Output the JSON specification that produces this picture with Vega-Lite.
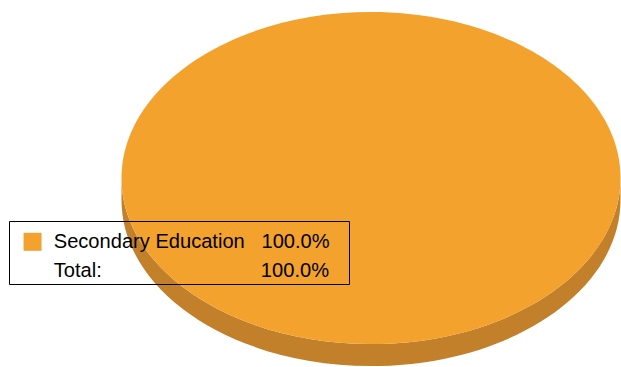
{
  "$schema": "https://vega.github.io/schema/vega-lite/v6.json",
  "width": 621,
  "height": 367,
  "padding": 0,
  "autosize": "none",
  "background": "white",
  "data": {"values": [{"category": "Secondary Education", "share": 100.0}]},
  "layer": [
    {
      "mark": {
        "type": "point",
        "filled": true,
        "opacity": 1,
        "strokeWidth": 0,
        "size": 249001,
        "color": "#C2802A",
        "shape": "M 1.2425 -0.022 C 1.2425 0.3454 0.7948 0.6433 0.2425 0.6433 C -0.3098 0.6433 -0.7575 0.3454 -0.7575 -0.022 L -0.7575 0.0662 C -0.7575 0.4336 -0.3098 0.7315 0.2425 0.7315 C 0.7948 0.7315 1.2425 0.4336 1.2425 0.0662 Z"
      },
      "encoding": {}
    },
    {
      "mark": {
        "type": "point",
        "filled": true,
        "opacity": 1,
        "strokeWidth": 0,
        "size": 249001,
        "shape": "M 1.2425 -0.022 C 1.2425 0.3454 0.7948 0.6433 0.2425 0.6433 C -0.3098 0.6433 -0.7575 0.3454 -0.7575 -0.022 C -0.7575 -0.3894 -0.3098 -0.6873 0.2425 -0.6873 C 0.7948 -0.6873 1.2425 -0.3894 1.2425 -0.022 Z"
      },
      "encoding": {
        "color": {
          "field": "category",
          "type": "nominal",
          "scale": {
            "domain": ["Secondary Education", "Total:"],
            "range": ["#F3A22E", "rgba(0,0,0,0)"]
          },
          "legend": {
            "orient": "none",
            "legendX": 9,
            "legendY": 221,
            "zindex": 1,
            "title": " ",
            "titleFontSize": 1,
            "titlePadding": 7.9,
            "padding": 1.85,
            "strokeColor": "#000000",
            "columns": 1,
            "rowPadding": 8.5,
            "symbolType": "square",
            "symbolSize": 324,
            "symbolStrokeWidth": 0,
            "symbolOpacity": 1,
            "symbolOffset": 11.65,
            "labelOffset": 11.15,
            "labelFont": "Liberation Sans",
            "labelFontSize": 20.1,
            "labelColor": "#000000",
            "labelLimit": 0,
            "labelExpr": "datum.label == 'Total:' ? 'Total:\u2003\u2003\u2003\u2003\u2003\u2003\u2003\u00a0\u00a0\u00a0\u200a100.0%\u00a0\u00a0\u200b' : datum.label + '\u00a0\u00a0\u00a0100.0%\u00a0\u00a0\u00a0\u200b'"
          }
        }
      }
    }
  ],
  "config": {"view": {"stroke": null}}
}
